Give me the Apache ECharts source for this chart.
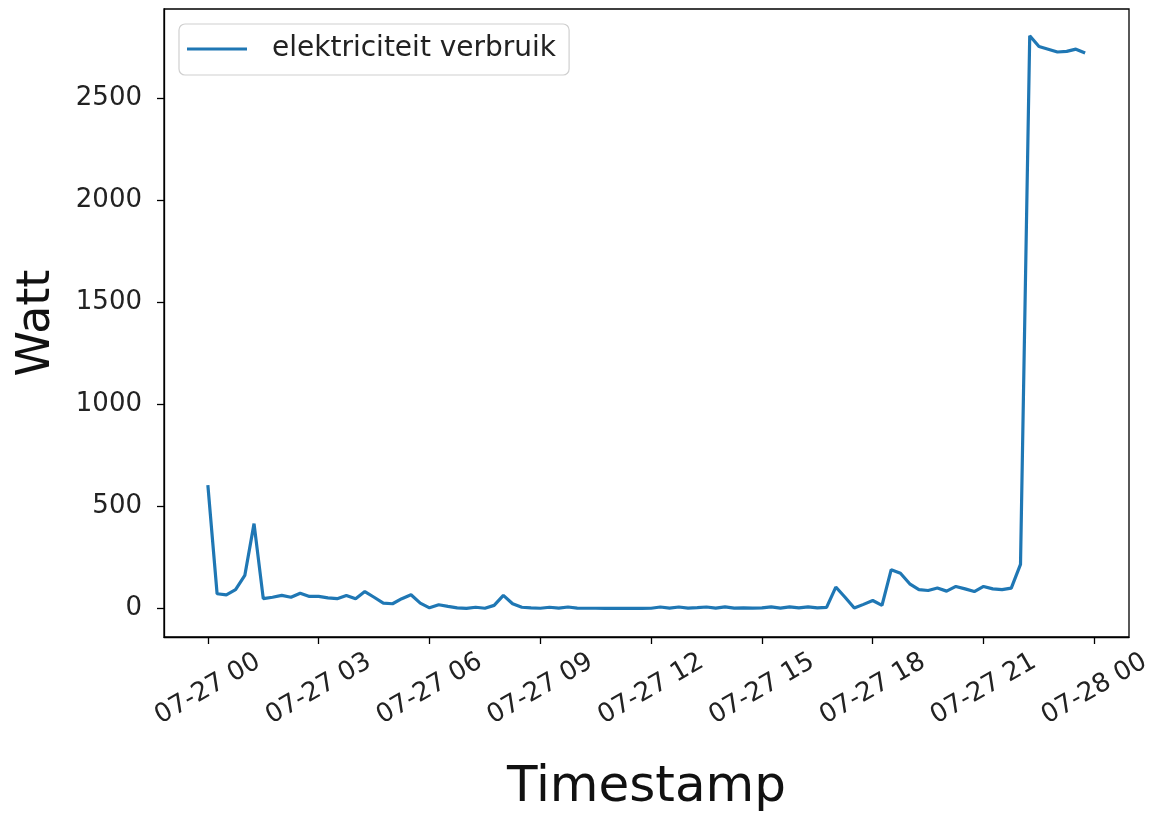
<!DOCTYPE html>
<html>
<head>
<meta charset="utf-8">
<script src="https://cdn.jsdelivr.net/npm/echarts@6/dist/echarts.min.js"></script>
<style>
html,body{margin:0;padding:0;background:#fff;}
#chart{width:1152px;height:817px;}
</style>
</head>
<body>
<div id="chart"></div>
<script>
// Sample times: hours after 07-27 00:00, every 15 minutes
const startHour = 0;
const stepHours = 0.25;
const watt = [
  605, 72, 67, 92, 162, 416, 48, 55,
  64, 55, 75, 59, 59, 52, 48, 64,
  48, 83, 55, 26, 23, 48, 67, 26,
  3, 18, 10, 3, 0, 6, 1, 15,
  64, 23, 6, 3, 1, 6, 2, 7,
  2, 1, 1, 0, 0, 0, 0, 0,
  1, 7, 2, 7, 2, 4, 7, 2,
  8, 2, 3, 2, 3, 8, 2, 8,
  3, 8, 3, 5, 105, 55, 2, 20,
  39, 15, 190, 173, 121, 92, 88, 100,
  85, 108, 96, 83, 108, 96, 92, 100,
  216, 2809, 2756, 2743, 2729, 2732, 2743, 2724
];
const hours = watt.map((_, i) => startHour + i * stepHours);
const tickHours = [0, 3, 6, 9, 12, 15, 18, 21, 24];
const tickLabels = ["07-27 00", "07-27 03", "07-27 06", "07-27 09", "07-27 12", "07-27 15", "07-27 18", "07-27 21", "07-28 00"];
const yTicks = [0, 500, 1000, 1500, 2000, 2500];

const chart = echarts.init(document.getElementById('chart'));
const font = 'DejaVu Sans';
chart.setOption({
  animation: false,
  backgroundColor: '#fff',
  textStyle: { fontFamily: font },
  grid: { left: 164, right: 23, top: 9, bottom: 180, containLabel: false,
          outerBoundsMode: 'none',
          show: true, borderColor: '#000', borderWidth: 1.3 },
  legend: {
    left: 179, top: 24,
    orient: 'horizontal',
    padding: [11, 13, 12, 8],
    borderColor: '#d0d0d0', borderWidth: 1.2, borderRadius: 6,
    backgroundColor: '#fff',
    itemWidth: 60, itemHeight: 3, icon: 'rect',
    textStyle: { fontFamily: font, fontSize: 28, color: '#222', padding: [0, 0, 0, 20] },
    data: ['elektriciteit verbruik']
  },
  xAxis: {
    type: 'value',
    min: -1.1875, max: 24.9375,
    name: 'Timestamp', nameLocation: 'middle', nameGap: 126,
    nameTextStyle: { fontFamily: font, fontSize: 50, color: '#111' },
    axisLine: { show: true, onZero: false, lineStyle: { color: '#000', width: 1.3 } },
    axisTick: { show: true, length: 7, inside: false, customValues: tickHours, lineStyle: { color: '#000', width: 1.3 } },
    axisLabel: {
      customValues: tickHours,
      rotate: 30, align: 'center', verticalAlign: 'middle', margin: 52,
      fontFamily: font, fontSize: 26, color: '#222',
      formatter: v => { const k = tickHours.indexOf(Math.round(v)); return k >= 0 ? tickLabels[k] : ''; }
    },
    splitLine: { show: false }
  },
  yAxis: {
    type: 'value',
    min: -140, max: 2940,
    name: 'Watt', nameLocation: 'middle', nameGap: 104,
    nameTextStyle: { fontFamily: font, fontSize: 46, color: '#111' },
    axisLine: { show: true, onZero: false, lineStyle: { color: '#000', width: 1.3 } },
    axisTick: { show: true, length: 7, customValues: yTicks, lineStyle: { color: '#000', width: 1.3 } },
    axisLabel: { customValues: yTicks, margin: 22, fontFamily: font, fontSize: 26, color: '#222',
                 formatter: v => String(v) },
    splitLine: { show: false }
  },
  series: [{
    name: 'elektriciteit verbruik',
    type: 'line',
    data: hours.map((h, i) => [h, watt[i]]),
    showSymbol: false,
    symbol: 'none',
    color: '#1f77b4',
    lineStyle: { color: '#1f77b4', width: 3.2 }
  }]
});
</script>
</body>
</html>
